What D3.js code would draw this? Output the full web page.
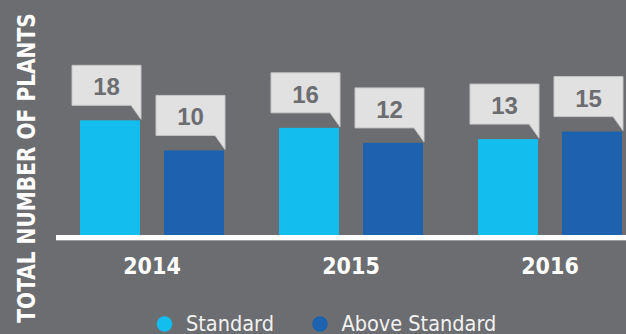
<!DOCTYPE html>
<html>
<head>
<meta charset="utf-8">
<script src="https://cdn.jsdelivr.net/npm/d3@7/dist/d3.min.js"></script>
<style>
  html, body { margin: 0; padding: 0; background: #6c6d71; }
  svg { display: block; }
</style>
</head>
<body>
<script>
// Plants per year, split by rating
const years = ["2014", "2015", "2016"];
const seriesNames = ["Standard", "Above Standard"];
const standard = [18, 16, 13];
const aboveStandard = [10, 12, 15];
const seriesColors = ["#13bdee", "#1d62ae"];

const W = 626, H = 334;
const baseY = 235;

const svg = d3.select("body").append("svg")
  .attr("width", W).attr("height", H);

svg.append("rect").attr("width", W).attr("height", H).attr("fill", "#6c6d71");

const rows = years.map((yr, i) => ({ year: yr, values: [standard[i], aboveStandard[i]] }));

// Year groups and the two bars inside each group
const x0 = d3.scaleBand().domain(years).range([66, 663]);
const x1 = d3.scaleBand().domain(seriesNames).range([14, 158]).paddingInner(24 / 84);

// Bars rise from an offset baseline
const y = d3.scaleLinear().domain([-12.5, 25]).range([baseY, 94]);

const color = d3.scaleOrdinal().domain(seriesNames).range(seriesColors);

const groups = svg.selectAll("g.year")
  .data(rows).enter().append("g")
  .attr("class", "year")
  .attr("transform", d => `translate(${x0(d.year)},0)`);

const cells = groups.selectAll("g.cell")
  .data(d => d.values.map((v, j) => ({ name: seriesNames[j], value: v })))
  .enter().append("g").attr("class", "cell");

cells.append("rect")
  .attr("x", d => x1(d.name))
  .attr("y", d => y(d.value))
  .attr("width", x1.bandwidth())
  .attr("height", d => baseY - y(d.value))
  .attr("fill", d => color(d.name));

// Callout boxes with a tail pointing at the bar's top-right corner
const boxW = 69, boxH = 40, gap = 15;
cells.append("path")
  .attr("d", d => {
    const r = x1(d.name) + x1.bandwidth() + 1;
    const b = y(d.value) - gap;
    const l = r - boxW, t = b - boxH;
    return `M${l},${t}H${r}V${b + 14}L${r - 10},${b}H${l}Z`;
  })
  .attr("fill", "#e1e1e1")
  .attr("stroke", "#c6c6c6")
  .attr("stroke-width", 1);

cells.append("text")
  .attr("x", d => x1(d.name) + x1.bandwidth() + 1 - boxW / 2)
  .attr("y", d => y(d.value) - gap - boxH + 30)
  .attr("text-anchor", "middle")
  .attr("font-family", "'Liberation Sans', Arial, sans-serif")
  .attr("font-weight", "bold")
  .attr("font-size", 24)
  .attr("fill", "#6c6d71")
  .text(d => d.value);

// Baseline
svg.append("rect")
  .attr("x", 56).attr("y", baseY)
  .attr("width", W - 56).attr("height", 5)
  .attr("fill", "#ffffff");
svg.append("rect")
  .attr("x", 56).attr("y", baseY + 5)
  .attr("width", W - 56).attr("height", 1)
  .attr("fill", "#9a9b9e");

// Year labels
groups.append("text")
  .attr("x", (x1(seriesNames[0]) + x1(seriesNames[1]) + x1.bandwidth()) / 2)
  .attr("y", 273.5)
  .attr("text-anchor", "middle")
  .attr("font-family", "'DejaVu Sans Condensed', 'DejaVu Sans', sans-serif")
  .attr("font-weight", "bold")
  .attr("font-size", 23)
  .attr("fill", "#ffffff")
  .text(d => d.year);

// Axis title (glyphs stretched slightly taller)
svg.append("text")
  .attr("transform", "translate(35,168) rotate(-90) scale(1,1.1)")
  .attr("text-anchor", "middle")
  .attr("font-family", "'DejaVu Sans Condensed', 'DejaVu Sans', sans-serif")
  .attr("font-weight", "bold")
  .attr("font-size", 22.4)
  .attr("fill", "#ffffff")
  .text("TOTAL NUMBER OF PLANTS");

// Legend
const legendX = [164.5, 320];
const legend = svg.selectAll("g.legend")
  .data(seriesNames).enter().append("g")
  .attr("class", "legend")
  .attr("transform", (d, i) => `translate(${legendX[i]},324)`);

legend.append("circle").attr("r", 7.8).attr("fill", d => color(d));
legend.append("text")
  .attr("x", 21.5).attr("y", 6.5)
  .attr("font-family", "'DejaVu Sans Condensed', 'DejaVu Sans', sans-serif")
  .attr("font-size", 21.5)
  .attr("fill", "#f2f2f2")
  .text(d => d);
</script>
</body>
</html>
